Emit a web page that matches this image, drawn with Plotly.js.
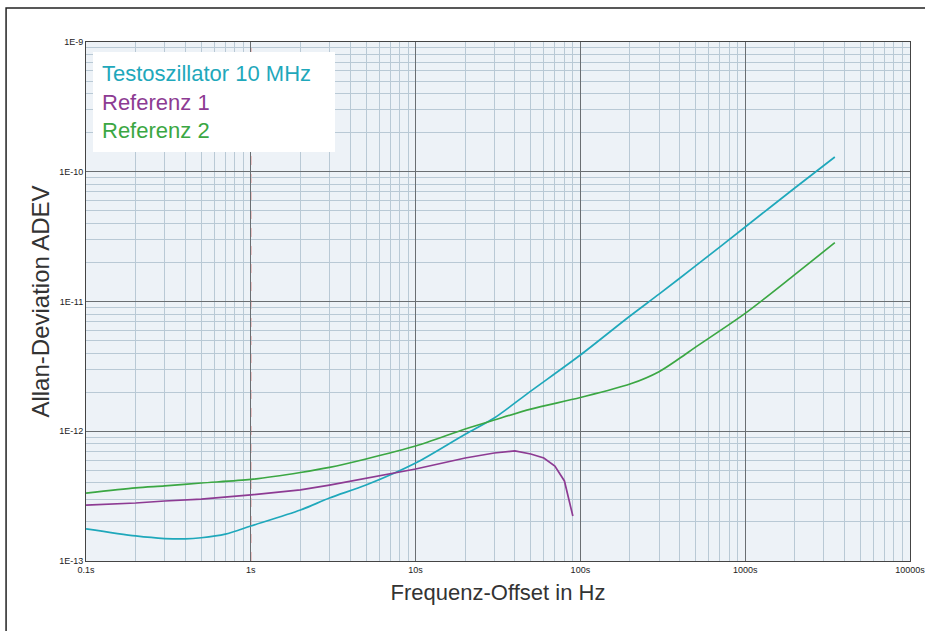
<!DOCTYPE html>
<html>
<head>
<meta charset="utf-8">
<script src="https://cdn.plot.ly/plotly-3.0.1.min.js"></script>
<style>
  html, body { margin: 0; padding: 0; background: #ffffff; }
  #chart { width: 925px; height: 631px; }
</style>
</head>
<body>
<div id="chart"></div>
<script>
// ---- Data ----
const seriesNames = ["Testoszillator 10 MHz", "Referenz 1", "Referenz 2"];

const testX = [0.1, 0.2, 0.3, 0.4, 0.5, 0.7, 1, 2, 3, 5, 10, 20, 30, 50, 100, 200, 300, 500, 1000, 2000, 3500];
const testY = [1.77e-13, 1.56e-13, 1.49e-13, 1.48e-13, 1.51e-13, 1.61e-13, 1.86e-13, 2.47e-13, 3.06e-13, 3.85e-13, 5.69e-13,
               9.5e-13, 1.265e-12, 2.04e-12, 3.87e-12, 7.73e-12, 1.14e-11, 1.88e-11, 3.75e-11, 7.5e-11, 1.30e-10];

const ref1X = [0.1, 0.2, 0.3, 0.5, 1, 2, 3, 5, 10, 20, 30, 40, 50, 60, 70, 80, 90];
const ref1Y = [2.70e-13, 2.80e-13, 2.90e-13, 3.00e-13, 3.23e-13, 3.53e-13, 3.85e-13, 4.36e-13, 5.12e-13, 6.22e-13,
               6.8e-13, 7.05e-13, 6.68e-13, 6.22e-13, 5.4e-13, 4.14e-13, 2.22e-13];

const ref2X = [0.1, 0.2, 0.3, 0.5, 1, 2, 3, 5, 10, 20, 30, 50, 100, 200, 300, 400, 500, 1000, 2000, 3500];
const ref2Y = [3.33e-13, 3.66e-13, 3.79e-13, 3.99e-13, 4.25e-13, 4.81e-13, 5.26e-13, 6.11e-13, 7.69e-13, 1.04e-12,
               1.22e-12, 1.48e-12, 1.82e-12, 2.31e-12, 2.88e-12, 3.65e-12, 4.45e-12, 8.1e-12, 1.61e-11, 2.84e-11];

const xTickVals = [0.1, 1, 10, 100, 1000, 10000];
const xTickText = ["0.1s", "1s", "10s", "100s", "1000s", "10000s"];
const yTickVals = [1e-13, 1e-12, 1e-11, 1e-10, 1e-9];
const yTickText = ["1E-13", "1E-12", "1E-11", "1E-10", "1E-9"];
const markerX = [1];   // red dashed reference line

// ---- Styling ----
const colors = ["#1fa8bb", "#8d3b93", "#3ba743"];
const tickFont = { family: "Liberation Sans Narrow, Liberation Sans, Arial, sans-serif", size: 9, color: "#222" };

const xs = [testX, ref1X, ref2X];
const ys = [testY, ref1Y, ref2Y];
const traces = seriesNames.map((n, i) => ({
  type: "scatter", mode: "lines", name: n, x: xs[i], y: ys[i],
  line: { color: colors[i], width: 1.7, shape: "spline", smoothing: 0.8 },
  showlegend: false
}));
traces[1].line.shape = "linear";

const legendText = seriesNames.map((n, i) => `<span style="color:${colors[i]}">${n}</span>`).join("<br>");

const axisCommon = {
  type: "log",
  showline: true, mirror: true, linecolor: "#444", linewidth: 1,
  showgrid: true, gridcolor: "#6a6e72", gridwidth: 1,
  ticks: "", zeroline: false,
  tickfont: tickFont,
  ticklabeloverflow: "allow",
  minor: { dtick: "D1", showgrid: true, gridcolor: "#b9c9d5", gridwidth: 1, ticks: "" }
};

const layout = {
  width: 925, height: 631,
  margin: { l: 86, r: 15, t: 42, b: 70 },
  paper_bgcolor: "#ffffff",
  plot_bgcolor: "#edf2f7",
  xaxis: Object.assign({}, axisCommon, {
    range: [-1.0003, 4.0003],
    tickvals: xTickVals, ticktext: xTickText,
    title: { text: "Frequenz-Offset in Hz", font: { family: "Liberation Sans, Arial, sans-serif", size: 22, color: "#333" }, standoff: 10 },
    automargin: false
  }),
  yaxis: Object.assign({}, axisCommon, {
    range: [-13, -9],
    tickvals: yTickVals, ticktext: yTickText,
    title: { text: "Allan-Deviation ADEV", font: { family: "Liberation Sans, Arial, sans-serif", size: 24, color: "#333" }, standoff: 2 },
    automargin: false
  }),
  shapes: [
    ...markerX.map(v => ({
      type: "line", xref: "x", yref: "paper", x0: v, x1: v, y0: 0, y1: 1,
      line: { color: "#e58a8a", width: 1.2, dash: "dash" }, layer: "between"
    })),
    {
      type: "rect", xref: "paper", yref: "paper",
      x0: -0.097, x1: 1.03, y0: -0.2, y1: 1.0655,
      line: { color: "#222", width: 1.5 }, fillcolor: "rgba(0,0,0,0)"
    }
  ],
  annotations: [{
    xref: "paper", yref: "paper", x: 0.0085, y: 0.981,
    xanchor: "left", yanchor: "top", showarrow: false,
    text: legendText, align: "left",
    font: { family: "Liberation Sans, Arial, sans-serif", size: 22 },
    bgcolor: "#ffffff", borderpad: 9, borderwidth: 0,
    width: 224
  }]
};

Plotly.newPlot("chart", traces, layout, { displayModeBar: false, staticPlot: true });
</script>
</body>
</html>
